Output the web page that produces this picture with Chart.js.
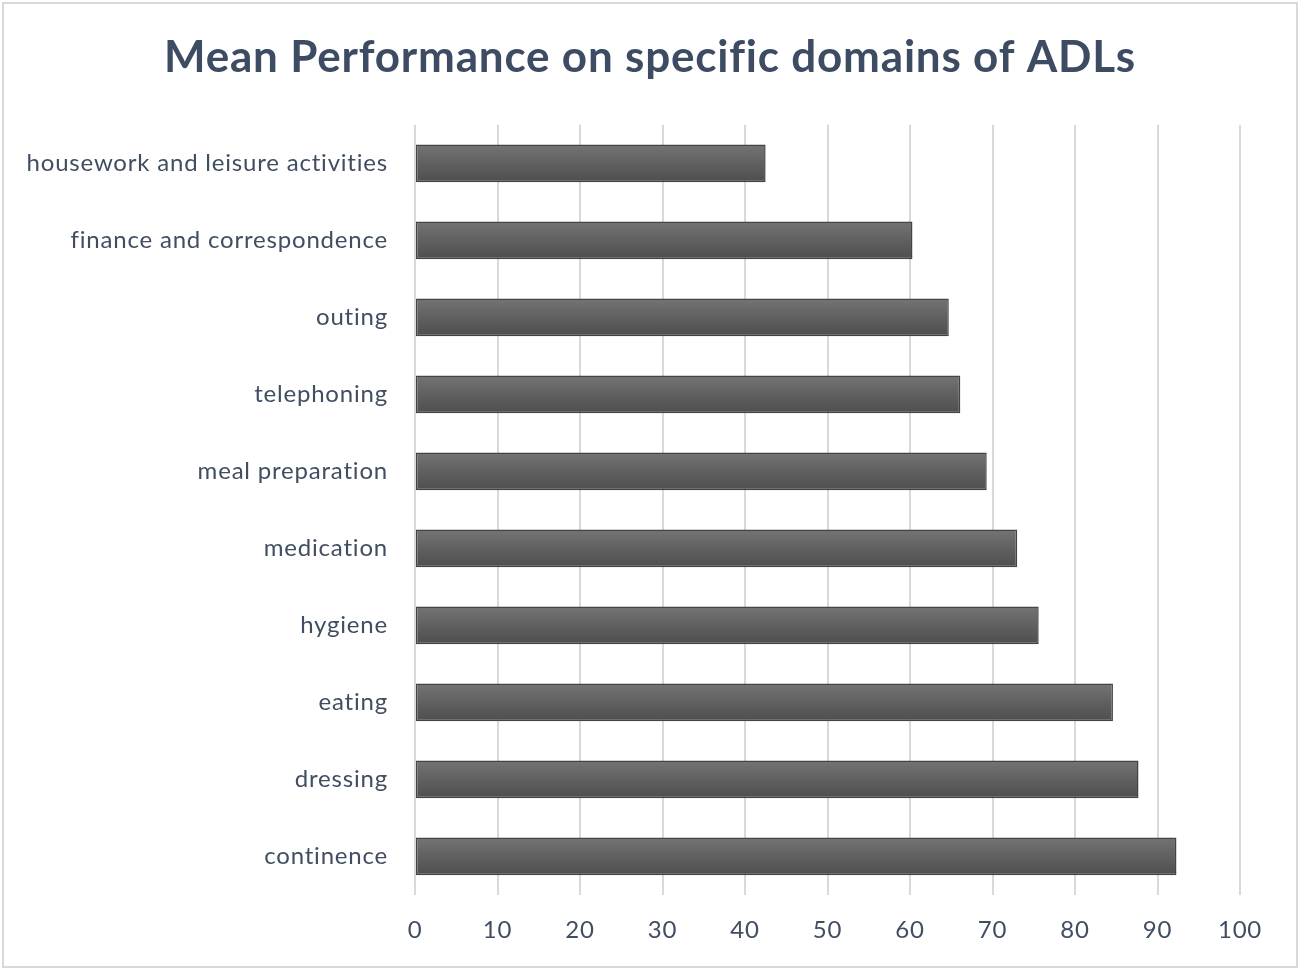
<!DOCTYPE html>
<html>
<head>
<meta charset="utf-8">
<script src="https://cdn.jsdelivr.net/npm/chart.js@4.4.1/dist/chart.umd.min.js"></script>
<style>
  html, body { margin: 0; padding: 0; background: #ffffff; }
  #wrap { position: relative; width: 1300px; height: 970px; }
</style>
</head>
<body>
<div id="wrap"><canvas id="c" width="1300" height="970"></canvas></div>
<script>
const titleText = "Mean Performance on specific domains of ADLs";
const categories = [
  "housework and leisure activities",
  "finance and correspondence",
  "outing",
  "telephoning",
  "meal preparation",
  "medication",
  "hygiene",
  "eating",
  "dressing",
  "continence"
];
const meanValues = [42.5, 60.3, 64.7, 66.1, 69.3, 73.0, 75.6, 84.6, 87.7, 92.3];
const xMin = 0, xMax = 100, xStep = 10;

const FONT = "Lato, 'Open Sans', sans-serif";
const TEXT = "#414e62";
const TITLE = "#3d4b63";

function barGradient(ctx) {
  const chart = ctx.chart;
  const y = chart.scales && chart.scales.y;
  if (!chart.chartArea || !y || ctx.dataIndex === undefined) return "#5f5f5f";
  const c = y.getPixelForValue(ctx.dataIndex);
  const band = (y.bottom - y.top) / categories.length;
  const h = band * 0.49;
  const g = chart.ctx.createLinearGradient(0, c - h / 2, 0, c + h / 2);
  g.addColorStop(0, "#747474");
  g.addColorStop(0.5, "#606060");
  g.addColorStop(1, "#4e4e4e");
  return g;
}

function spacing(chart) {
  if ("letterSpacing" in chart.ctx) chart.ctx.letterSpacing = "0.8px";
}

const frame = {
  id: "frame",
  beforeUpdate(chart) { spacing(chart); },
  beforeLayout(chart) { spacing(chart); },
  beforeDraw(chart) {
    spacing(chart);
    const ctx = chart.ctx;
    ctx.save();
    ctx.fillStyle = "#ffffff";
    ctx.fillRect(0, 0, chart.width, chart.height);
    ctx.strokeStyle = "#d9d9d9";
    ctx.lineWidth = 2;
    ctx.strokeRect(3, 3, chart.width - 6, chart.height - 6);
    ctx.restore();
  }
};

new Chart(document.getElementById("c"), {
  type: "bar",
  data: {
    labels: categories,
    datasets: [{
      data: meanValues,
      backgroundColor: barGradient,
      borderColor: "#444444",
      borderWidth: 1.5,
      borderSkipped: false,
      categoryPercentage: 1,
      barPercentage: 0.49
    }]
  },
  options: {
    indexAxis: "y",
    responsive: false,
    animation: false,
    devicePixelRatio: 1,
    layout: { padding: { left: 0, right: 0, top: 0, bottom: 0 } },
    plugins: {
      legend: { display: false },
      tooltip: { enabled: false },
      title: {
        display: true,
        text: titleText,
        color: TITLE,
        font: { family: FONT, size: 44, weight: "bold" },
        padding: { top: 31, bottom: 41 }
      }
    },
    scales: {
      x: {
        min: xMin, max: xMax,
        ticks: {
          stepSize: xStep,
          color: TEXT,
          font: { family: FONT, size: 24 },
          padding: 21
        },
        grid: { color: "#d9d9d9", lineWidth: 2, drawTicks: false },
        border: { display: false },
        afterFit(scale) { scale.height = 970 - 895; }
      },
      y: {
        ticks: {
          color: TEXT,
          font: { family: FONT, size: 24 },
          padding: 27,
          autoSkip: false
        },
        grid: { display: false, drawTicks: false },
        border: { display: false },
        afterFit(scale) { scale.width = 415; }
      },
      yRight: {
        type: "category",
        position: "right",
        labels: categories,
        ticks: { display: false },
        grid: { display: false, drawTicks: false },
        border: { display: false },
        afterFit(scale) { scale.width = 60; }
      }
    }
  },
  plugins: [frame]
});
</script>
</body>
</html>
